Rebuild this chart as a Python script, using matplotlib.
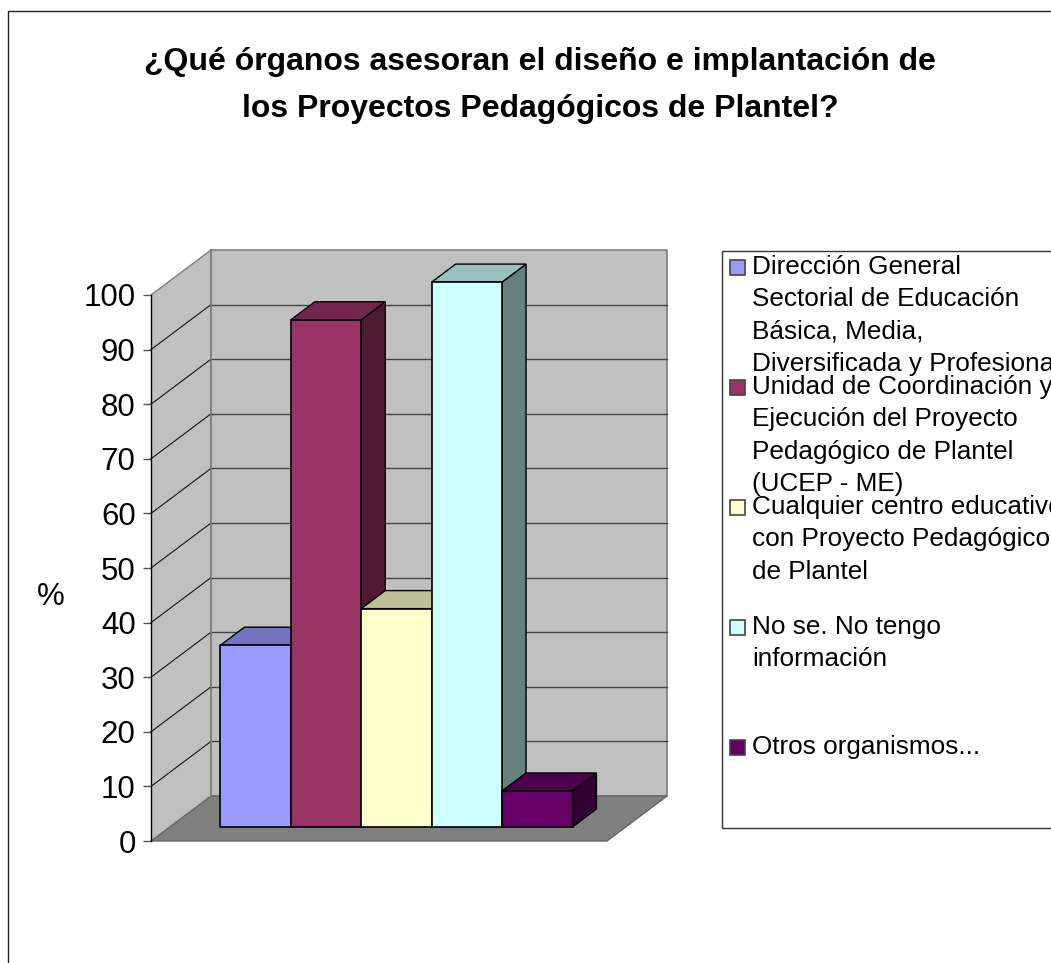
import matplotlib
matplotlib.use("Agg")
import matplotlib.pyplot as plt
from matplotlib.patches import Polygon, Rectangle

plt.rcParams["font.family"] = ["Liberation Sans", "DejaVu Sans"]

titulo = "¿Qué órganos asesoran el diseño e implantación de\nlos Proyectos Pedagógicos de Plantel?"
organos = [
    "Dirección General\nSectorial de Educación\nBásica, Media,\nDiversificada y Profesional",
    "Unidad de Coordinación y\nEjecución del Proyecto\nPedagógico de Plantel\n(UCEP - ME)",
    "Cualquier centro educativo\ncon Proyecto Pedagógico\nde Plantel",
    "No se. No tengo\ninformación",
    "Otros organismos...",
]
valores = [33.3, 92.9, 40.0, 99.8, 6.6]
colores = ["#9999FF", "#993366", "#FFFFCC", "#CCFFFF", "#660066"]
ticks = [0, 10, 20, 30, 40, 50, 60, 70, 80, 90, 100]


def sombra(color, f):
    c = matplotlib.colors.to_rgb(color)
    return (c[0] * f, c[1] * f, c[2] * f)


fig = plt.figure(figsize=(10.51, 9.63), dpi=100, facecolor="white")

# capa en pixeles para el marco y la leyenda
capa = fig.add_axes([0, 0, 1, 1])
capa.set_xlim(0, 1051)
capa.set_ylim(963, 0)
capa.axis("off")
capa.plot([8, 8, 1051], [963, 11.5, 11.5], color="#222222", lw=1)

ax = fig.add_axes([151 / 1051, 122 / 963, 456 / 1051, 546 / 963])
ax.patch.set_visible(False)
ax.set_xlim(0, 6.477)
ax.set_ylim(0, 100)

# profundidad del grafico 3D en unidades de los ejes
fondo_x, fondo_y = 0.852, 8.24
prof_x, prof_y = 0.34, 3.3
inicio_x, base_y = 0.987, 2.56
xmax = 6.477

gris = "#C0C0C0"
borde = "#808080"
ax.add_patch(Polygon([(0, 0), (fondo_x, fondo_y), (fondo_x, 100 + fondo_y), (0, 100)],
                     fc=gris, ec="none", clip_on=False, zorder=1))
ax.add_patch(Rectangle((fondo_x, fondo_y), xmax, 100, fc=gris, ec=borde, lw=1.2, clip_on=False, zorder=1))
ax.add_patch(Polygon([(0, 0), (xmax, 0), (xmax + fondo_x, fondo_y), (fondo_x, fondo_y)],
                     fc="#808080", ec="#666666", lw=1, clip_on=False, zorder=2))
for t in ticks:
    if t == 100:
        ax.plot([0, fondo_x], [t, t + fondo_y], color=borde, lw=1, clip_on=False, zorder=2)
    elif t > 0:
        ax.plot([0, fondo_x], [t, t + fondo_y], color="#111111", lw=0.8, clip_on=False, zorder=2)
        ax.plot([fondo_x, fondo_x + xmax], [t + fondo_y, t + fondo_y], color="#444444", lw=1, clip_on=False, zorder=2)
ax.plot([fondo_x, fondo_x], [fondo_y, 100 + fondo_y], color="#808080", lw=1.2, clip_on=False, zorder=2)

# barras de izquierda a derecha, cada una tapa a la anterior
for i, (v, c) in enumerate(zip(valores, colores)):
    x0 = inicio_x + i
    x1 = x0 + 1
    y0 = base_y
    y1 = base_y + v
    z = 3 + i
    ax.add_patch(Polygon([(x1, y0), (x1 + prof_x, y0 + prof_y), (x1 + prof_x, y1 + prof_y), (x1, y1)],
                         fc=sombra(c, 0.5), ec="black", lw=1, clip_on=False, zorder=z))
    ax.add_patch(Polygon([(x0, y1), (x1, y1), (x1 + prof_x, y1 + prof_y), (x0 + prof_x, y1 + prof_y)],
                         fc=sombra(c, 0.75), ec="black", lw=1, clip_on=False, zorder=z))
    ax.add_patch(Rectangle((x0, y0), 1, v, fc=c, ec="black", lw=1.2, clip_on=False, zorder=z))

for lado in ["top", "right", "bottom"]:
    ax.spines[lado].set_visible(False)
ax.spines["left"].set_linewidth(1)
ax.spines["left"].set_zorder(2)
ax.set_xticks([])
ax.set_yticks(ticks)
ax.tick_params(axis="y", length=6, width=1, color="#555555", labelsize=22.5, pad=5)

capa.text(51, 597, "%", fontsize=22.5, ha="center", va="center")
capa.text(540, 85.5, titulo, fontsize=23, fontweight="bold", ha="center", va="center", linespacing=1.7)

# leyenda
capa.add_patch(Rectangle((722, 251), 400, 577, fc="white", ec="#333333", lw=1))
for i, (nombre, c) in enumerate(zip(organos, colores)):
    y = 266 + i * 120
    capa.add_patch(Rectangle((730, y - 6), 15, 15, fc=c, ec="#444444", lw=1.2))
    capa.text(752, y - 11, nombre, fontsize=18.8, ha="left", va="top", linespacing=1.44)

fig.savefig("out.png", dpi=100)
